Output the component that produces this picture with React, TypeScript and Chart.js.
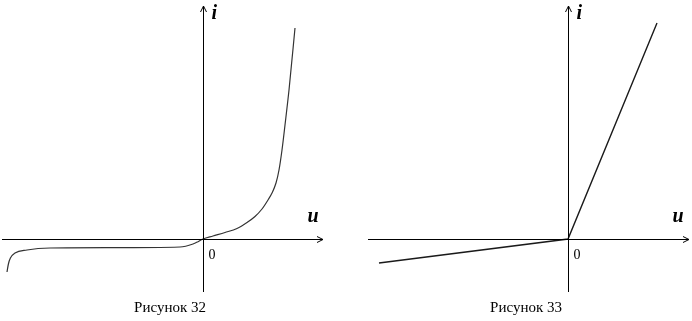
import React, { useEffect, useRef } from "react";
import { Chart, registerables } from "chart.js";

Chart.register(...registerables);

// Figure 32: diode-like characteristic (u, i in arbitrary units)
const curve32U = [-9.8, -9.73, -9.63, -9.4, -8.8, -7.65, -4.65, -1.15, -0.5, -0.25, 0, 0.5, 1.1, 1.7, 2.2, 2.6, 2.95, 3.25, 3.45, 3.65, 3.8, 3.95, 4.1, 4.3, 4.6];
const curve32I = [-1.65, -1.25, -0.95, -0.7, -0.55, -0.45, -0.435, -0.4, -0.25, -0.135, 0, 0.15, 0.325, 0.525, 0.825, 1.125, 1.5, 1.95, 2.3, 2.8, 3.45, 4.45, 5.7, 7.45, 10.55];

// Figure 33: piecewise-linear characteristic
const curve33U = [-9.45, 0, 4.45];
const curve33I = [-1.2, 0, 10.8];

const captions = ["Рисунок 32", "Рисунок 33"];
const axisNames = ["u", "i"];
const originLabel = "0";

type Panel = {
  u: number[];
  i: number[];
  smooth: boolean;
  color: string;
  width: number;
  xMin: number;
  xMax: number;
  axisU: [number, number];
  axisI: [number, number];
  caption: string;
  captionX: number;
};

const SERIF = '"Liberation Serif", "DejaVu Serif", serif';

const axesPlugin = {
  id: "crossAxes",
  afterDatasetsDraw(chart: any, _args: any, opts: any) {
    const p: Panel = opts.panel;
    const { ctx } = chart;
    const xs = chart.scales.x;
    const ys = chart.scales.y;
    const ox = Math.round(xs.getPixelForValue(0)) + 0.5;
    const oy = Math.round(ys.getPixelForValue(0)) + 0.5;
    const left = xs.getPixelForValue(p.axisU[0]);
    const right = xs.getPixelForValue(p.axisU[1]);
    const bottom = ys.getPixelForValue(p.axisI[0]);
    const top = ys.getPixelForValue(p.axisI[1]);
    ctx.save();
    ctx.strokeStyle = "#000";
    ctx.lineWidth = 1;
    ctx.beginPath();
    ctx.moveTo(left, oy);
    ctx.lineTo(right, oy);
    ctx.moveTo(ox, bottom);
    ctx.lineTo(ox, top);
    // arrow heads
    ctx.moveTo(right - 6, oy - 3);
    ctx.lineTo(right, oy);
    ctx.lineTo(right - 6, oy + 3);
    ctx.moveTo(ox - 3, top + 6);
    ctx.lineTo(ox, top);
    ctx.lineTo(ox + 3, top + 6);
    ctx.stroke();

    ctx.fillStyle = "#000";
    ctx.textAlign = "left";
    ctx.textBaseline = "alphabetic";
    ctx.font = `italic bold 20px ${SERIF}`;
    ctx.fillText(axisNames[1], ox + 8, 19);
    ctx.fillText(axisNames[0], ox + 104, 222);
    ctx.font = `14px ${SERIF}`;
    ctx.fillText(originLabel, ox + 5, oy + 19);
    ctx.font = `15px ${SERIF}`;
    ctx.textAlign = "center";
    ctx.fillText(p.caption, p.captionX, 312);
    ctx.restore();
  },
};

function PanelChart({ panel }: { panel: Panel }) {
  const ref = useRef<HTMLCanvasElement | null>(null);
  useEffect(() => {
    if (!ref.current) return;
    const data = panel.u.map((u, k) => ({ x: u, y: panel.i[k] }));
    const chart = new Chart(ref.current, {
      type: "line",
      data: {
        datasets: [
          {
            data,
            borderColor: panel.color,
            borderWidth: panel.width,
            pointRadius: 0,
            tension: 0,
            cubicInterpolationMode: panel.smooth ? "monotone" : "default",
            fill: false,
            clip: false as any,
          },
        ],
      },
      options: {
        animation: false,
        responsive: false,
        devicePixelRatio: 1,
        layout: { padding: 0 },
        events: [],
        plugins: {
          legend: { display: false },
          tooltip: { enabled: false },
          crossAxes: { panel },
        } as any,
        scales: {
          x: { type: "linear", display: false, min: panel.xMin, max: panel.xMax },
          y: { type: "linear", display: false, min: -4.1, max: 11.95 },
        },
      },
      plugins: [axesPlugin],
    });
    return () => chart.destroy();
  }, [panel]);
  return <canvas ref={ref} width={346} height={321} style={{ display: "block" }} />;
}

const panel32: Panel = {
  u: curve32U,
  i: curve32I,
  smooth: true,
  color: "#333",
  width: 1.2,
  xMin: -10.15,
  xMax: 7.15,
  axisU: [-10.05, 6.0],
  axisI: [-2.65, 11.65],
  caption: captions[0],
  captionX: 170,
};

const panel33: Panel = {
  u: curve33U,
  i: curve33I,
  smooth: false,
  color: "#1a1a1a",
  width: 1.4,
  xMin: -11.1,
  xMax: 6.2,
  axisU: [-10.0, 6.05],
  axisI: [-2.65, 11.65],
  caption: captions[1],
  captionX: 180,
};

export default function App() {
  return (
    <div
      style={{
        position: "fixed",
        left: 0,
        top: 0,
        width: 692,
        height: 321,
        background: "#fff",
        display: "flex",
      }}
    >
      <PanelChart panel={panel32} />
      <PanelChart panel={panel33} />
    </div>
  );
}
